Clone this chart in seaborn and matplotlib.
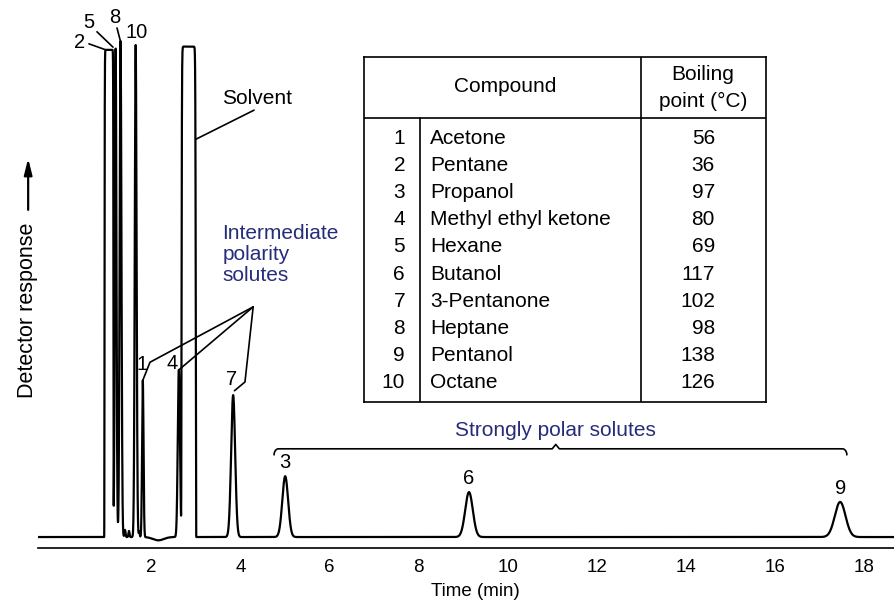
import numpy as np
import pandas as pd
import matplotlib
matplotlib.use("Agg")
import matplotlib.pyplot as plt
import seaborn as sns

# ---- chromatogram peaks: label, retention time (min), height above baseline,
# width parameter (min) and profile exponent (2 = Gaussian, large = flat-topped, off scale)
peak_labels = ["2", "5", "8", "10", "1", "4", "Solvent", "7", "3", "6", "9"]
peak_times = [1.04, 1.19, 1.30, 1.64, 1.80, 2.61, 2.83, 3.83, 5.00, 9.13, 17.47]
peak_heights = [88.9, 89.2, 90.5, 89.8, 28.6, 30.5, 89.5, 25.9, 11.1, 8.2, 6.4]
peak_widths = [0.099, 0.018, 0.020, 0.020, 0.016, 0.024, 0.157, 0.045, 0.065, 0.085, 0.12]
peak_profiles = [30, 2, 2, 2, 2, 2, 30, 2, 2, 2, 2]

# small baseline disturbances
noise_times = [1.40, 1.49, 1.72, 2.15]
noise_heights = [1.3, 1.1, 1.0, -0.6]
noise_widths = [0.012, 0.012, 0.010, 0.12]

baseline_level = 2.0
time_ticks = [2, 4, 6, 8, 10, 12, 14, 16, 18]

# ---- compound table
table_numbers = ["1", "2", "3", "4", "5", "6", "7", "8", "9", "10"]
table_compounds = ["Acetone", "Pentane", "Propanol", "Methyl ethyl ketone", "Hexane",
                   "Butanol", "3-Pentanone", "Heptane", "Pentanol", "Octane"]
table_boiling = ["56", "36", "97", "80", "69", "117", "102", "98", "138", "126"]

NAVY = "#262c7a"
FONT = "Liberation Sans"
FS = 15

sns.set_theme(style="white")
plt.rcParams["font.family"] = [FONT, "DejaVu Sans"]

t = np.linspace(-0.555, 18.68, 12000)
signal = np.full_like(t, baseline_level)
for c, h, w, p in zip(peak_times, peak_heights, peak_widths, peak_profiles):
    signal += h * np.exp(-0.5 * np.abs((t - c) / w) ** p)
for c, h, w in zip(noise_times, noise_heights, noise_widths):
    signal += h * np.exp(-0.5 * ((t - c) / w) ** 2)
trace = pd.DataFrame({"time": t, "response": signal})

peak = {lab: (c, baseline_level + h) for lab, c, h in zip(peak_labels, peak_times, peak_heights)}

fig = plt.figure(figsize=(8.94, 6.10), dpi=100)
ax = fig.add_axes([38 / 894, 62 / 610, 856 / 894, 548 / 610])
sns.lineplot(data=trace, x="time", y="response", ax=ax, color="black",
             linewidth=1.6, sort=False, estimator=None)
ax.set_xlim(-0.555, 18.68)
ax.set_ylim(0, 100)
for s in ["left", "right", "top"]:
    ax.spines[s].set_visible(False)
ax.spines["bottom"].set_color("black")
ax.spines["bottom"].set_linewidth(1.2)
ax.set_yticks([])
ax.set_xticks(time_ticks)
ax.set_xticklabels([str(v) for v in time_ticks])
ax.tick_params(axis="x", direction="in", length=11, width=1.1, color="black",
               pad=8, labelsize=13.5, labelcolor="black")
ax.set_xlabel("Time (min)", fontsize=13.5, color="black")
ax.xaxis.set_label_coords(0.5105, -0.064)
ax.set_ylabel("Detector response", fontsize=15.5, color="black", va="center")
ax.yaxis.set_label_coords(-0.0125, 0.433)
ax.annotate("", xy=(-0.0115, 0.716), xytext=(-0.0115, 0.612),
            xycoords="axes fraction", textcoords="axes fraction",
            arrowprops=dict(arrowstyle="-|>,head_length=0.8,head_width=0.2",
                            color="black", lw=1.6), annotation_clip=False)

txt = dict(fontsize=14.5, color="black", ha="center", va="center")
line = dict(color="black", lw=1.2)

# early, off-scale peaks
ax.text(0.37, 92.2, "2", **txt)
ax.text(0.59, 95.9, "5", **txt)
ax.text(1.17, 96.8, "8", **txt)
ax.text(1.67, 94.0, "10", **txt)
ax.plot([0.59, peak["2"][0] - 0.07], [92.0, peak["2"][1]], **line)
ax.plot([0.77, 1.13], [94.2, 91.4], **line)
ax.plot([1.22, peak["8"][0]], [94.9, 92.4], **line)

# solvent
ax.text(3.58, 82.1, "Solvent", fontsize=FS, color="black", ha="left", va="center")
ax.plot([4.30, peak["Solvent"][0] + 0.165], [79.9, 74.6], **line)

# intermediate polarity group
apex = (4.28, 44.0)
ax.text(3.584, 59.2, "Intermediate\npolarity\nsolutes", fontsize=FS, color=NAVY,
        ha="left", va="top", linespacing=1.15)
ax.plot([apex[0], 1.962, peak["1"][0]], [apex[1], 33.9, peak["1"][1]], **line)
ax.plot([apex[0], peak["4"][0]], [apex[1], peak["4"][1]], **line)
ax.plot([apex[0], 4.096, peak["7"][0] + 0.03], [apex[1], 30.3, peak["7"][1] + 0.8], **line)
ax.text(1.775, 33.4, "1", **txt)
ax.text(2.449, 33.7, "4", **txt)
ax.text(3.80, 30.8, "7", **txt)

# strongly polar group
for lab in ["3", "6", "9"]:
    ax.annotate(lab, xy=peak[lab], xytext=(0, 10), textcoords="offset points", **txt)

x0, x1, xm, yb = 4.75, 17.62, 11.08, 18.1
rx, ry = 0.10, 1.1
arc = np.linspace(0, np.pi / 2, 20)
bx = np.concatenate([x0 + rx - rx * np.cos(arc),
                     [xm - 0.08, xm, xm + 0.08],
                     x1 - rx + rx * np.sin(arc)])
by = np.concatenate([yb - ry + ry * np.sin(arc),
                     [yb, yb + 0.8, yb],
                     yb - ry + ry * np.cos(arc)])
ax.plot(bx, by, color="black", lw=1.2)
ax.text(xm, 21.5, "Strongly polar solutes", fontsize=FS, color=NAVY, ha="center", va="center")

# ---- compound table
tb = fig.add_axes([364 / 894, 208 / 610, 402 / 894, 345 / 610])
tb.set_xlim(0, 1)
tb.set_ylim(0, 1)
tb.set_xticks([])
tb.set_yticks([])
tb.patch.set_alpha(0)
for s in tb.spines.values():
    s.set_visible(True)
    s.set_color("black")
    s.set_linewidth(1.2)
header_y = 1 - 61 / 345
tb.plot([0, 1], [header_y, header_y], color="black", lw=1.2)
tb.plot([0.689, 0.689], [0, 1], color="black", lw=1.2)
tb.plot([0.139, 0.139], [0, header_y], color="black", lw=1.2)
tb.text(0.351, 1 - 29 / 345, "Compound", fontsize=FS, ha="center", va="center", color="black")
tb.text(0.843, 1 - 17 / 345, "Boiling", fontsize=FS, ha="center", va="center", color="black")
tb.text(0.843, 1 - 44 / 345, "point (\u00b0C)", fontsize=FS, ha="center", va="center", color="black")
for i, (n, name, bp) in enumerate(zip(table_numbers, table_compounds, table_boiling)):
    y = 1 - (81 + 27.2 * i) / 345
    tb.text(0.102, y, n, fontsize=FS, ha="right", va="center", color="black")
    tb.text(0.164, y, name, fontsize=FS, ha="left", va="center", color="black")
    tb.text(0.873, y, bp, fontsize=FS, ha="right", va="center", color="black")

fig.savefig("out.png", dpi=100)
